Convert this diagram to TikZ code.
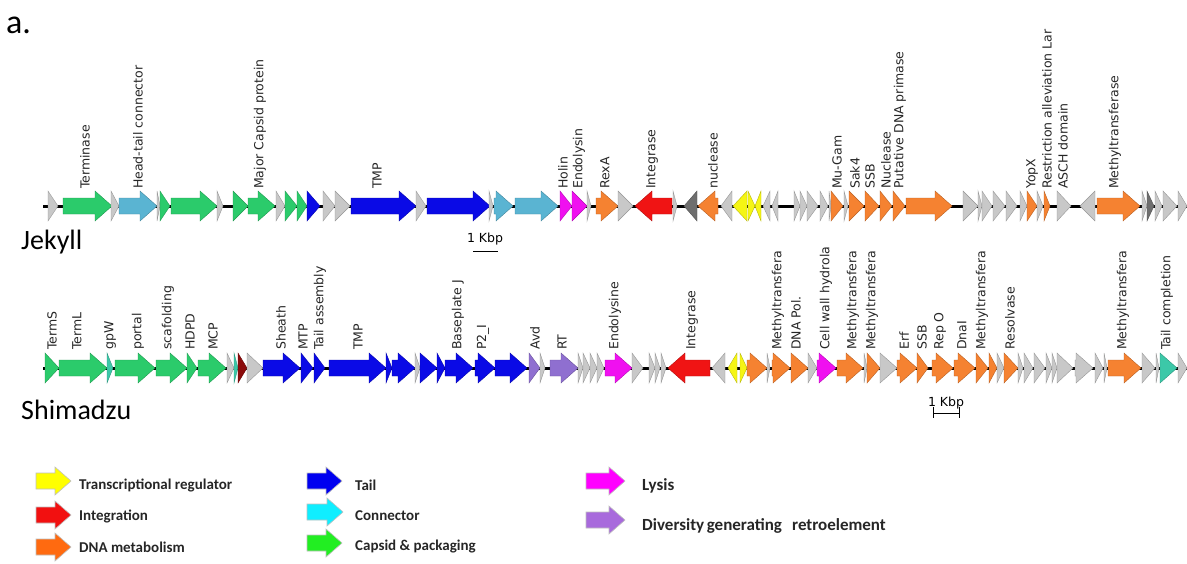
\documentclass[tikz,border=0pt]{standalone}
\usepackage{fontspec}
\setmainfont{DejaVu Sans}
\newfontfamily\calfont{Carlito}
\usetikzlibrary{positioning}

\definecolor{gcap}{HTML}{2BCB6B}
\definecolor{gconn}{HTML}{5AB4D2}
\definecolor{gtail}{HTML}{0A0AE6}
\definecolor{ghyp}{HTML}{C8C8C8}
\definecolor{gdark}{HTML}{6E6E6E}
\definecolor{gdna}{HTML}{F58231}
\definecolor{gint}{HTML}{F01414}
\definecolor{glys}{HTML}{F010F0}
\definecolor{greg}{HTML}{F5F514}
\definecolor{gdgr}{HTML}{8F6FD0}
\definecolor{gteal}{HTML}{3CC8A8}
\definecolor{gmaroon}{HTML}{8B0A0A}
\definecolor{lreg}{HTML}{FFFF00}
\definecolor{lint}{HTML}{F21010}
\definecolor{ldna}{HTML}{FF6A10}
\definecolor{ltail}{HTML}{0000F0}
\definecolor{lconn}{HTML}{10EEFF}
\definecolor{lcap}{HTML}{22EE22}
\definecolor{llys}{HTML}{FF00FF}
\definecolor{ldgr}{HTML}{A86ADC}

\begin{document}
\begin{tikzpicture}[x=1pt,y=-1pt,
    gene/.style={line width=0.4pt, line join=miter},
    glabel/.style={rotate=90, anchor=west, inner sep=0pt, font=\fontsize{12.5}{12.5}\selectfont, text=black!85},
    track/.style={line width=3pt},
    larrow/.style={draw=black!25, line width=0.6pt},
    ltext/.style={anchor=west, inner sep=0pt, font=\calfont\bfseries\fontsize{15}{15}\selectfont, text=black!85},
    title/.style={anchor=base west, inner sep=0pt, font=\calfont\fontsize{28}{28}\selectfont},
    kbp/.style={inner sep=0pt, font=\fontsize{12.5}{12.5}\selectfont}
]
\useasboundingbox (0,0) rectangle (1187,563);

\node[title, font=\calfont\fontsize{34}{34}\selectfont] (panel) at (6,33) {a.};

% Jekyll
\draw[track] (43,206) -- (1187,206);
\def\ty{206}
\foreach \s/\e/\c in {48/58/ghyp, 63/112/gcap, 111/119/ghyp, 119/157/gconn, 157/160/ghyp,
    160/170/gcap, 171/217/gcap, 217/223/ghyp, 233/248/gcap, 248/275/gcap, 276/285/ghyp,
    285/297/gcap, 297/307/gcap, 307/320/gtail, 323/335/ghyp, 335/350/ghyp, 351/416/gtail,
    416/426/ghyp, 427/490/gtail, 489/493/ghyp, 494/513/gconn, 515/558/gconn, 560/572/glys,
    572/587/glys, 587/591/ghyp, 596/618/gdna, 618/633/ghyp, 672/635/gint, 673/677/ghyp,
    697/684/gdark, 718/698/gdna, 732/721/ghyp, 747/733/greg, 748/755/greg, 761/755/greg,
    770/763/ghyp, 778/772/ghyp, 794/800/ghyp, 800/807/ghyp, 807/818/ghyp, 820/828/ghyp,
    829/831/ghyp, 831/843/gdna, 844/848/ghyp, 849/864/gdna, 865/879/gdna, 880/892/gdna,
    893/905/gdna, 906/952/gdna, 963/978/ghyp, 978/982/ghyp, 982/992/ghyp, 993/1005/ghyp,
    1006/1017/ghyp, 1020/1027/ghyp, 1027/1037/gdna, 1037/1043/ghyp, 1044/1050/gdna,
    1057/1071/ghyp, 1095/1080/ghyp, 1097/1140/gdna, 1142/1147/ghyp, 1147/1154/gdark,
    1155/1162/ghyp, 1163/1177/ghyp, 1178/1187/ghyp}{
  \pgfmathsetmacro\hd{(\e>\s ? 1 : -1)*min(17,abs(\e-\s))}
  \draw[gene, fill=\c, draw=\c!75!black] ({\s},{\ty-8}) -- ({\e-(\hd)},{\ty-8}) -- ({\e-(\hd)},{\ty-15})
    -- ({\e},{\ty}) -- ({\e-(\hd)},{\ty+15}) -- ({\e-(\hd)},{\ty+8}) -- ({\s},{\ty+8}) -- cycle;
}
\foreach \x/\t [count=\i] in {85/Terminase, 138/Head-tail connector, 260/Major Capsid protein,
    377/TMP, 563/Holin, 579/Endolysin, 605/RexA, 652/Integrase, 713/nuclease, 837/Mu-Gam,
    855/Sak4, 870/SSB, 886/Nuclease, 900/Putative DNA primase, 1032/YopX,
    1047/Restriction alleviation Lar, 1063/ASCH domain, 1115/Methyltransferase}
  \node[glabel] (jl\i) at (\x,189) {\t};
\node[title] (jekyll) at (21,249) {Jekyll};
\node[kbp] (jkbp) at (485,239) {1 Kbp};
\draw[line width=0.8pt] (473,251) -- (498,251);

% Shimadzu
\draw[track] (43,368) -- (1187,368);
\def\ty{368}
\foreach \s/\e/\c in {45/59/gcap, 59/107/gcap, 107/113/gteal, 115/155/gcap, 156/187/gcap,
    187/197/gcap, 198/226/gcap, 227/234/ghyp, 234/238/gteal, 238/247/gmaroon, 247/263/ghyp,
    263/300/gtail, 301/313/gtail, 314/325/gtail, 329/386/gtail, 386/392/gtail, 392/415/gtail,
    415/420/ghyp, 420/437/gtail, 437/445/gtail, 445/473/gtail, 475/495/gtail, 495/527/gtail,
    529/540/gdgr, 540/545/ghyp, 550/578/gdgr, 578/583/ghyp, 583/590/ghyp, 590/597/ghyp,
    597/604/ghyp, 605/632/glys, 632/643/ghyp, 649/655/ghyp, 655/660/ghyp, 661/666/ghyp,
    710/668/gint, 725/712/ghyp, 737/728/greg, 740/747/greg, 747/767/gdna, 767/770/ghyp,
    772/790/gdna, 791/808/gdna, 808/817/ghyp, 817/836/glys, 837/863/gdna, 864/867/ghyp,
    867/880/gdna, 880/897/ghyp, 897/917/gdna, 917/928/gdna, 932/953/gdna, 954/975/gdna,
    976/988/gdna, 989/997/gdna, 997/1004/ghyp, 1004/1018/gdna, 1018/1023/ghyp,
    1024/1033/ghyp, 1034/1045/ghyp, 1046/1052/ghyp, 1052/1057/ghyp, 1057/1073/ghyp,
    1075/1093/ghyp, 1095/1103/ghyp, 1104/1107/ghyp, 1108/1141/gdna, 1142/1155/ghyp,
    1156/1159/ghyp, 1160/1177/gteal, 1178/1187/ghyp}{
  \pgfmathsetmacro\hd{(\e>\s ? 1 : -1)*min(17,abs(\e-\s))}
  \draw[gene, fill=\c, draw=\c!75!black] ({\s},{\ty-8}) -- ({\e-(\hd)},{\ty-8}) -- ({\e-(\hd)},{\ty-15})
    -- ({\e},{\ty}) -- ({\e-(\hd)},{\ty+15}) -- ({\e-(\hd)},{\ty+8}) -- ({\s},{\ty+8}) -- cycle;
}
\foreach \x/\t [count=\i] in {52/TermS, 77/TermL, 110/gpW, 138/portal, 168/scafolding,
    190/HDPD, 213/MCP, 281/Sheath, 303/MTP, 320/Tail assembly, 358/TMP, 458/Baseplate J,
    483/P2\_I, 535/Avd, 562/RT, 615/Endolysine, 692/Integrase, 778/Methyltransfera,
    796/DNA Pol., 826/Cell wall hydrola, 853/Methyltransfera, 872/Methyltransfera, 904/Erf,
    922/SSB, 940/Rep O, 962/DnaI, 982/Methyltransfera, 1010/Resolvase,
    1123/Methyltransfera, 1167/Tail completion}
  \node[glabel] (sl\i) at (\x,350) {\t};
\node[title] (shimadzu) at (21,419) {Shimadzu};
\node[kbp] (skbp) at (946,403) {1 Kbp};
\draw[line width=0.8pt] (933,407) -- (933,418) (933,413) -- (959,413) (959,407) -- (959,418);

% legend
\foreach \x/\yc/\w/\c in {36/481/35/lreg, 36/515/35/lint, 36/547/35/ldna, 307/481/35/ltail,
    307/512/36/lconn, 307/543/35/lcap, 586/481/39/llys, 586/520/39/ldgr}
  \draw[larrow, fill=\c] ({\x},{\yc-8}) -- ({\x+\w-16},{\yc-8}) -- ({\x+\w-16},{\yc-14})
    -- ({\x+\w},{\yc}) -- ({\x+\w-16},{\yc+14}) -- ({\x+\w-16},{\yc+8}) -- ({\x},{\yc+8}) -- cycle;
\node[ltext] (treg) at (79,485) {Transcriptional regulator};
\node[ltext] (tint) at (79,516) {Integration};
\node[ltext] (tdna) at (79,547) {DNA metabolism};
\node[ltext] (ttail) at (355,485) {Tail};
\node[ltext] (tconn) at (355,516) {Connector};
\node[ltext] (tcap) at (355,547) {Capsid \& packaging};
\node[ltext, font=\calfont\bfseries\fontsize{17}{17}\selectfont] (tlys) at (642,486) {Lysis};
\node[ltext, font=\calfont\bfseries\fontsize{17}{17}\selectfont] (tdgr) at (642,526)
  {Diversity\hspace{0.15em}generating\hspace{0.6em}retroelement};
\end{tikzpicture}
\end{document}
